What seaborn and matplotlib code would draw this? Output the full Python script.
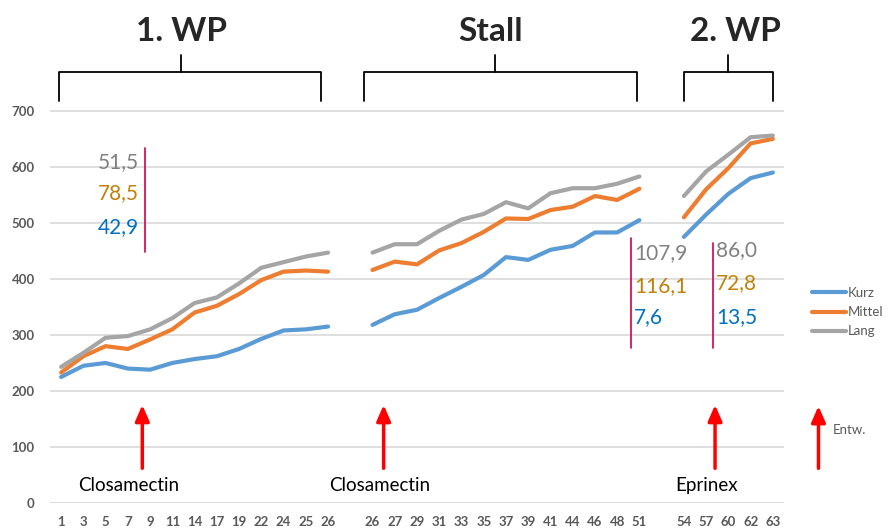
import matplotlib
matplotlib.use("Agg")
import matplotlib.pyplot as plt
import pandas as pd
import seaborn as sns
from matplotlib.lines import Line2D

# x tick labels per phase
days_wp1 = [1, 3, 5, 7, 9, 11, 14, 17, 19, 22, 24, 25, 26]
days_stall = [26, 27, 29, 31, 33, 35, 37, 39, 41, 44, 46, 48, 51]
days_wp2 = [54, 57, 60, 62, 63]

kurz_wp1 = [225, 245, 250, 240, 238, 250, 257, 262, 275, 293, 308, 310, 315]
mittel_wp1 = [233, 262, 280, 275, 292, 310, 340, 352, 373, 398, 413, 415, 413]
lang_wp1 = [243, 268, 295, 298, 310, 330, 357, 367, 392, 420, 430, 440, 447]

kurz_stall = [318, 337, 345, 366, 386, 407, 439, 434, 452, 459, 483, 483, 505]
mittel_stall = [416, 431, 426, 451, 464, 484, 508, 507, 523, 529, 548, 541, 561]
lang_stall = [447, 462, 462, 486, 506, 516, 537, 526, 553, 562, 562, 570, 583]

kurz_wp2 = [475, 515, 552, 580, 590]
mittel_wp2 = [510, 560, 598, 642, 650]
lang_wp2 = [548, 592, 622, 653, 656]

series_names = ["Kurz", "Mittel", "Lang"]
series_colors = ["#5B9BD5", "#ED7D31", "#A5A5A5"]

phase_titles = ["1. WP", "Stall", "2. WP"]
treatments = ["Closamectin", "Closamectin", "Eprinex"]
diff_gray = ["51,5", "107,9", "86,0"]
diff_orange = ["78,5", "116,1", "72,8"]
diff_blue = ["42,9", "7,6", "13,5"]

# build long-form table, categorical slots with one empty slot between phases
pos_wp1 = list(range(0, 13))
pos_stall = list(range(14, 27))
pos_wp2 = list(range(28, 33))

rows = []
phases = [
    ("wp1", pos_wp1, [kurz_wp1, mittel_wp1, lang_wp1]),
    ("stall", pos_stall, [kurz_stall, mittel_stall, lang_stall]),
    ("wp2", pos_wp2, [kurz_wp2, mittel_wp2, lang_wp2]),
]
for phase, positions, values in phases:
    for name, vals in zip(series_names, values):
        for p, v in zip(positions, vals):
            rows.append({"pos": p, "value": v, "serie": name, "seg": phase + name})
df = pd.DataFrame(rows)

sns.set_theme(style="white")
plt.rcParams["font.family"] = ["Lato", "DejaVu Sans"]

fig = plt.figure(figsize=(8.91, 5.30), dpi=100)
ax = fig.add_axes([50 / 891, 27 / 530, 734 / 891, 503 / 530])

sns.lineplot(
    data=df, x="pos", y="value", hue="serie", units="seg", estimator=None,
    palette=dict(zip(series_names, series_colors)), linewidth=3,
    solid_capstyle="round", legend=False, ax=ax,
)

ax.set_xlim(-0.5, 32.5)
ax.set_ylim(0, 898)
ax.set_yticks(range(0, 701, 100))
for y in range(0, 701, 100):
    ax.axhline(y, color="#D9D9D9", linewidth=1.2, zorder=0)
ax.set_xticks(pos_wp1 + pos_stall + pos_wp2)
ax.set_xticklabels([str(d) for d in days_wp1 + days_stall + days_wp2])
ax.tick_params(axis="both", length=0, labelsize=9.5, labelcolor="#595959")
ax.tick_params(axis="y", pad=11)
ax.tick_params(axis="x", pad=9)
for lab in ax.get_xticklabels() + ax.get_yticklabels():
    lab.set_fontweight("bold")
ax.set_xlabel("")
ax.set_ylabel("")
sns.despine(ax=ax, left=True, bottom=True, top=True, right=True)

# phase brackets and titles
brackets = [(-0.1, 11.7, 5.4), (13.6, 25.9, 19.5), (28.0, 32.0, 30.0)]
title_x = [5.4, 19.3, 30.3]
for (x0, x1, xc), title, tx in zip(brackets, phase_titles, title_x):
    ax.plot([x0, x0, x1, x1], [718, 770, 770, 718], color="black", lw=1.3, clip_on=False)
    ax.plot([xc, xc], [770, 800], color="black", lw=1.3, clip_on=False)
    ax.text(tx, 842, title, ha="center", va="center", fontsize=24, fontweight="bold")

# treatment arrows and labels
arrow_x = [3.65, 14.5, 29.4]
label_x = [3.05, 14.3, 29.0]
for xa, lx, txt in zip(arrow_x, label_x, treatments):
    ax.annotate("", xy=(xa, 180), xytext=(xa, 57),
                arrowprops=dict(arrowstyle="-|>,head_width=0.35,head_length=0.8",
                                color="#FF0000", lw=2.5))
    ax.text(lx, 32, txt, ha="center", va="center", fontsize=13.5, color="black")

# legend-like arrow outside the axes
ax.annotate("", xy=(34.05, 178), xytext=(34.05, 57),
            arrowprops=dict(arrowstyle="-|>,head_width=0.35,head_length=0.8",
                            color="#FF0000", lw=2.5), annotation_clip=False)
ax.text(34.7, 130, "Entw.", ha="left", va="center", fontsize=9.5, color="#595959")

# difference annotations
vlines = [(3.75, 448, 634), (25.6, 277, 473), (29.3, 277, 464)]
text_x = [3.5, 25.75, 29.45]
text_ha = ["right", "left", "left"]
text_y = [[609, 554, 493], [446, 387, 332], [452, 392, 332]]
for (vx, y0, y1), tx, ha, ys, g, o, b in zip(vlines, text_x, text_ha, text_y,
                                              diff_gray, diff_orange, diff_blue):
    ax.plot([vx, vx], [y0, y1], color="#D6004A", lw=1.2)
    for yy, s, c in zip(ys, [g, o, b], ["#808080", "#C0800A", "#0070C0"]):
        ax.text(tx, yy, s, ha=ha, va="center", fontsize=15, color=c)

handles = [Line2D([0], [0], color=c, lw=3, solid_capstyle="round") for c in series_colors]
leg = fig.legend(handles, series_names, loc="upper left", bbox_to_anchor=(800 / 891, 1 - 275 / 530),
                 frameon=False, fontsize=9.5, handlelength=2.6, handletextpad=0.1,
                 labelspacing=0.55)
for t in leg.get_texts():
    t.set_color("#595959")

fig.savefig("out.png", dpi=100)
